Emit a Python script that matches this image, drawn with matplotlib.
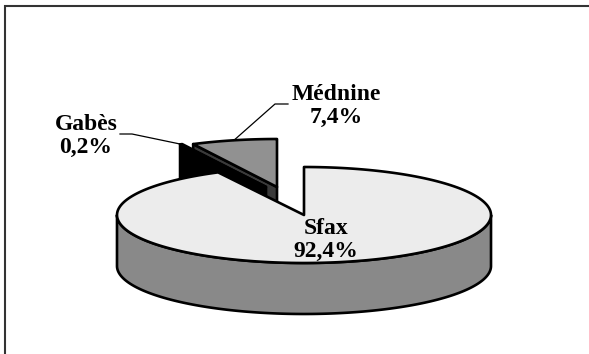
import numpy as np
import matplotlib.pyplot as plt
from matplotlib.patches import Polygon

# parts of the total, listed clockwise from 12 o'clock
regions = ["Sfax", "Gabès", "Médnine"]
shares = [92.4, 0.2, 7.4]

topColors = ["#ececec", "#050505", "#919191"]
cutColors = ["#8a8a8a", "#000000", "#3a3a3a"]
sideColors = ["#898989", "#000000", "#5a5a5a"]
# pulled-out slices, shift of the apex in pixels
explode = [(0, 0), (-38, -28), (-27, -28)]
drawOrder = [2, 1, 0]

# label block centres and leader elbows (pixels)
labelPos = {"Sfax": (326, 240), "Gabès": (86, 136), "Médnine": (336, 106)}
leaders = {"Gabès": [(120, 134), (132, 134)], "Médnine": [(288, 104), (275, 104)]}

cx, cy = 304, 215
rx, ry = 187, 48
depth = 51

fig = plt.figure(figsize=(5.89, 3.54), dpi=100)
ax = fig.add_axes([0, 0, 1, 1])
ax.set_xlim(0, 589)
ax.set_ylim(354, 0)
ax.axis("off")


def project(theta, r, z, off):
    t = np.radians(theta)
    return (cx + off[0] + r * rx * np.cos(t), cy + off[1] - r * ry * np.sin(t) + z)


def arc(a, b, z, off, n=200):
    return [project(t, 1.0, z, off) for t in np.linspace(a, b, n)]


# slice angles, going clockwise from the top
total = sum(shares)
start = 90.0
slices = []
for name, v, off, tc, cc, sc in zip(regions, shares, explode, topColors, cutColors, sideColors):
    span = 360.0 * v / total
    hi, lo = start, start - span
    slices.append(dict(name=name, value=v, lo=lo, hi=hi, off=off, top=tc, cut=cc, side=sc))
    start = lo

z = 2
edge = dict(edgecolor="black", linewidth=1.9, joinstyle="round")
for i in drawOrder:
    s = slices[i]
    off = s["off"]
    apexTop = project(0, 0, 0, off)
    apexBot = project(0, 0, depth, off)
    # radial cut faces that face the viewer
    for phi, visible in ((s["hi"], np.cos(np.radians(s["hi"])) < -1e-6),
                         (s["lo"], np.cos(np.radians(s["lo"])) > 1e-6)):
        if visible:
            pts = [apexTop, project(phi, 1, 0, off), project(phi, 1, depth, off), apexBot]
            ax.add_patch(Polygon(pts, closed=True, facecolor=s["cut"], zorder=z, **edge))
            z += 1
    # front part of the rim
    for k in (-1, 0, 1):
        a = max(s["lo"], -180 + 360 * k)
        b = min(s["hi"], 360 * k)
        if b > a:
            pts = arc(a, b, 0, off) + arc(b, a, depth, off)
            ax.add_patch(Polygon(pts, closed=True, facecolor=s["side"], zorder=z, **edge))
            z += 1
    pts = [apexTop] + arc(s["lo"], s["hi"], 0, off)
    ax.add_patch(Polygon(pts, closed=True, facecolor=s["top"], zorder=z, **edge))
    z += 1

# labels and leader lines
for s in slices:
    txt = s["name"] + "\n" + ("%.1f%%" % s["value"]).replace(".", ",")
    x, y = labelPos[s["name"]]
    ax.text(x, y, txt, ha="center", va="center", multialignment="center",
            family="Liberation Serif", fontweight="bold", fontsize=17,
            linespacing=1.12, zorder=50)
    if s["name"] in leaders:
        mx, my = project((s["lo"] + s["hi"]) / 2, 1, 0, s["off"])
        pts = leaders[s["name"]] + [(mx, my)]
        ax.plot([p[0] for p in pts], [p[1] for p in pts], color="black", lw=0.9, zorder=40)

# frame
ax.plot([5, 5, 589], [354, 6, 6], color="#333333", lw=1.5, zorder=60, solid_joinstyle="miter")

fig.savefig("out.png", dpi=100)
